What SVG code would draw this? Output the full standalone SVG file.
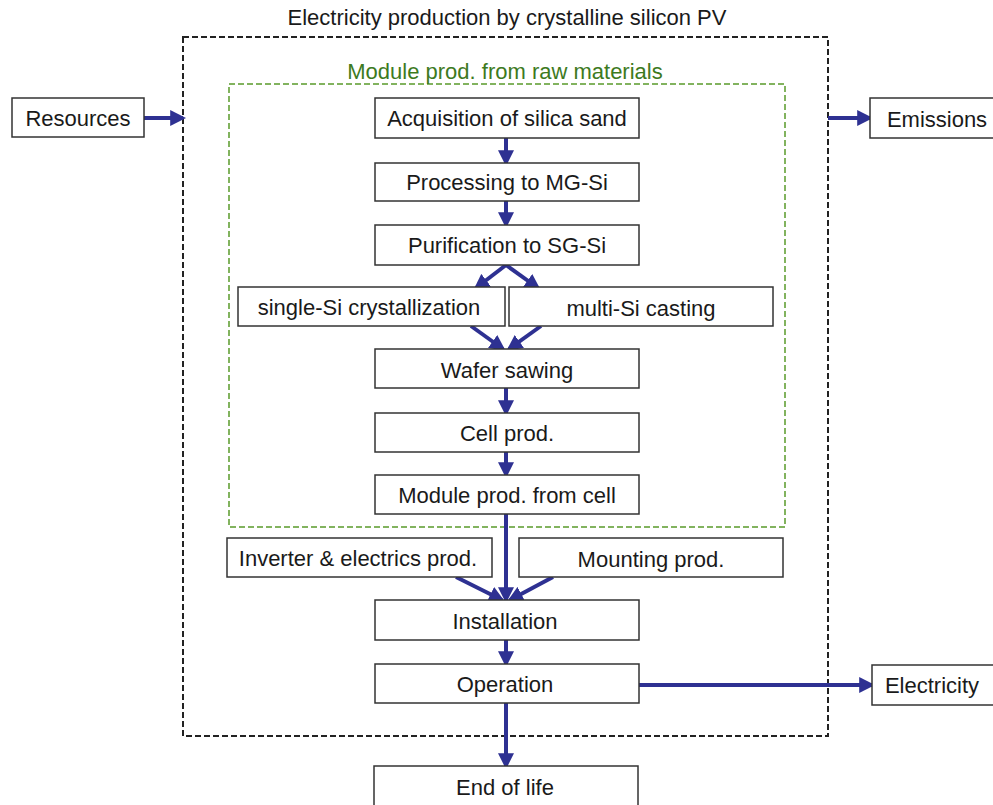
<svg xmlns="http://www.w3.org/2000/svg" width="993" height="805" viewBox="0 0 993 805">
<defs>
<marker id="ah" markerWidth="4" markerHeight="4" refX="3.2" refY="2" orient="auto" markerUnits="strokeWidth">
<path d="M0,0 L4,2 L0,4 Z" fill="#2e3192"/>
</marker>
<style>
.box{fill:#fff;stroke:#333;stroke-width:1.5}
.t{font-family:"Liberation Sans",Arial,sans-serif;font-size:22px;fill:#1a1a1a;text-anchor:middle}
.c{stroke:#2e3192;stroke-width:4;fill:none;marker-end:url(#ah)}
</style>
</defs>
<rect width="993" height="805" fill="#fff"/>
<g id="system">
<rect x="183" y="37" width="645" height="699" fill="none" stroke="#222" stroke-width="2" stroke-dasharray="6,3"/>
<text class="t" x="507" y="25">Electricity production by crystalline silicon PV</text>
</g>
<g id="module-group">
<rect x="229" y="84" width="556" height="443" fill="none" stroke="#5a9a2a" stroke-width="1.5" stroke-dasharray="6,3"/>
<text class="t" x="505" y="79" style="fill:#3d7a1e">Module prod. from raw materials</text>
</g>
<g id="connectors">
<line class="c" x1="144" y1="118" x2="183" y2="118"/>
<line class="c" x1="828" y1="118" x2="870" y2="118"/>
<line class="c" x1="506" y1="138" x2="506" y2="163"/>
<line class="c" x1="506" y1="201" x2="506" y2="225"/>
<line class="c" x1="506" y1="265" x2="476" y2="288"/>
<line class="c" x1="506" y1="265" x2="538" y2="288"/>
<line class="c" x1="471" y1="326" x2="503" y2="349"/>
<line class="c" x1="541" y1="326" x2="509" y2="349"/>
<line class="c" x1="506" y1="388" x2="506" y2="413"/>
<line class="c" x1="506" y1="452" x2="506" y2="475"/>
<line class="c" x1="506" y1="514" x2="506" y2="600"/>
<line class="c" x1="456" y1="577" x2="502" y2="600"/>
<line class="c" x1="553" y1="577" x2="510" y2="600"/>
<line class="c" x1="506" y1="640" x2="506" y2="664"/>
<line class="c" x1="639" y1="685" x2="872" y2="685"/>
<line class="c" x1="506" y1="703" x2="506" y2="766"/>
</g>
<g id="resources"><rect class="box" x="12" y="98" width="132" height="39"/><text class="t" x="78" y="126">Resources</text></g>
<g id="emissions"><rect class="box" x="870" y="98" width="140" height="40"/><text class="t" x="937" y="127">Emissions</text></g>
<g id="electricity"><rect class="box" x="872" y="665" width="140" height="40"/><text class="t" x="932" y="693">Electricity</text></g>
<g id="acquisition"><rect class="box" x="375" y="98" width="264" height="40"/><text class="t" x="507" y="126">Acquisition of silica sand</text></g>
<g id="processing"><rect class="box" x="375" y="163" width="264" height="38"/><text class="t" x="507" y="190">Processing to MG-Si</text></g>
<g id="purification"><rect class="box" x="375" y="225" width="264" height="40"/><text class="t" x="507" y="253">Purification to SG-Si</text></g>
<g id="single-si"><rect class="box" x="238" y="287" width="267" height="39"/><text class="t" x="369" y="315">single-Si crystallization</text></g>
<g id="multi-si"><rect class="box" x="509" y="287" width="264" height="39"/><text class="t" x="641" y="316">multi-Si casting</text></g>
<g id="wafer"><rect class="box" x="375" y="349" width="264" height="39"/><text class="t" x="507" y="378">Wafer sawing</text></g>
<g id="cell"><rect class="box" x="375" y="413" width="264" height="39"/><text class="t" x="507" y="441">Cell prod.</text></g>
<g id="module"><rect class="box" x="375" y="475" width="264" height="39"/><text class="t" x="507" y="503">Module prod. from cell</text></g>
<g id="inverter"><rect class="box" x="227" y="538" width="265" height="39"/><text class="t" x="358" y="566">Inverter &amp; electrics prod.</text></g>
<g id="mounting"><rect class="box" x="519" y="538" width="264" height="39"/><text class="t" x="651" y="567">Mounting prod.</text></g>
<g id="installation"><rect class="box" x="375" y="600" width="264" height="40"/><text class="t" x="505" y="629">Installation</text></g>
<g id="operation"><rect class="box" x="375" y="664" width="264" height="39"/><text class="t" x="505" y="692">Operation</text></g>
<g id="end-of-life"><rect class="box" x="374" y="766" width="264" height="42"/><text class="t" x="505" y="795">End of life</text></g>
</svg>
